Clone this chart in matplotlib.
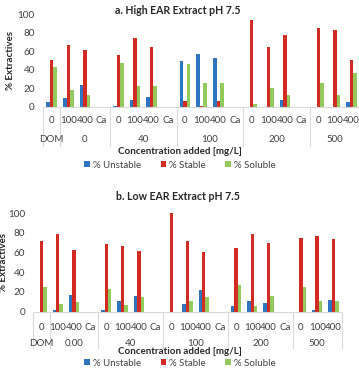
import matplotlib
matplotlib.use('Agg')
import matplotlib.pyplot as plt
from matplotlib.transforms import blended_transform_factory
import numpy as np

W, H = 359, 372

plt.rcParams['font.family'] = ['Lato', 'DejaVu Sans']

# categories: inner level (Ca addition) and outer level (DOM concentration)
inner_labels = ['0', '100', '400', 'Ca', '0', '100', '400', 'Ca', '0', '100', '400', 'Ca',
                '0', '100', '400', 'Ca', '0', '100', '400']
outer_labels_a = ['DOM', '0', '40', '100', '200', '500']
outer_labels_b = ['DOM', '0.00', '40', '100', '200', '500']
outer_first = [0, 1, 4, 8, 12, 16]
outer_last = [0, 3, 7, 11, 15, 18]

# a. High EAR extract
high_unstable = [5, 10, 24, 0, 1, 7, 11, 0, 50, 57, 53, 0, 0, 0, 7, 0, 0, 0, 5]
high_stable = [51, 67, 61, 0, 56, 74, 65, 0, 6, 1, 6, 0, 94, 64, 77, 0, 85, 83, 51]
high_soluble = [43, 18, 13, 0, 47, 23, 23, 0, 46, 26, 26, 0, 3, 20, 13, 0, 26, 13, 37]

# b. Low EAR extract
low_unstable = [0, 2, 17, 0, 2, 11, 16, 0, 0, 8, 22, 0, 6, 11, 9, 0, 0, 2, 12]
low_stable = [72, 79, 62, 0, 69, 67, 61, 0, 100, 72, 60, 0, 64, 79, 70, 0, 75, 77, 74]
low_soluble = [25, 8, 10, 0, 23, 7, 15, 0, 0, 11, 15, 0, 27, 6, 16, 0, 25, 11, 11]

colors = ['#2E74C0', '#D22B22', '#92CA5C']
series_names = ['% Unstable', '% Stable', '% Soluble']
grid_grey = '#D9D9D9'
text_grey = '#404040'


def fy(py):
    return 1 - py / H


def draw_panel(fig, box, title, values, outer_labels, ys):
    left, right, top, bottom = box
    ax = fig.add_axes([left / W, fy(bottom), (right - left) / W, (bottom - top) / H])
    x = np.arange(len(inner_labels))
    w = 0.21
    bars = []
    for i, (vals, c) in enumerate(zip(values, colors)):
        bars.append(ax.bar(x + (i - 1) * w, vals, width=w, color=c, label=series_names[i]))
    ax.set_xlim(-0.5, len(inner_labels) - 0.5)
    ax.set_ylim(0, 100)
    ax.set_yticks([0, 20, 40, 60, 80, 100])
    ax.tick_params(axis='y', length=0, pad=6, labelsize=7.2, labelcolor=text_grey)
    ax.set_xticks([])
    for s in ['top', 'right', 'left']:
        ax.spines[s].set_visible(False)
    ax.spines['bottom'].set_color(grid_grey)
    ax.spines['bottom'].set_linewidth(0.8)

    trans = blended_transform_factory(ax.transData, fig.transFigure)
    for xi, lab in zip(x, inner_labels):
        ax.text(xi, fy(ys['inner']), lab, transform=trans, ha='center', va='center',
                fontsize=7, color=text_grey)
    for lab, a, b in zip(outer_labels, outer_first, outer_last):
        ax.text((a + b) / 2, fy(ys['outer']), lab, transform=trans, ha='center', va='center',
                fontsize=7, color=text_grey)
    seps = [-0.5] + [b + 0.5 for b in outer_last]
    for s in seps:
        ax.plot([s, s], [fy(bottom), fy(ys['sep_end'])], transform=trans, color=grid_grey,
                lw=0.8, clip_on=False)

    fig.text(178 / W, fy(ys['title']), title, ha='center', va='center', fontsize=7.6,
             fontweight='bold', color='#262626')
    fig.text(180 / W, fy(ys['xlabel']), 'Concentration added [mg/L]', ha='center', va='center',
             fontsize=7, fontweight='bold', color='#262626')
    fig.text(ys['ylabel_x'] / W, fy((top + bottom) / 2), '% Extractives', ha='center', va='center',
             rotation=90, fontsize=7, fontweight='bold', color='#262626')
    fig.legend(handles=bars, loc='center', bbox_to_anchor=(180 / W, fy(ys['legend'])), ncol=3,
               frameon=False, fontsize=7, handlelength=0.6, handleheight=0.6,
               handletextpad=0.3, columnspacing=2.0, labelcolor=text_grey)
    return ax


fig = plt.figure(figsize=(W / 100, H / 100), dpi=100)

draw_panel(fig, (43.3, 360, 14, 107), 'a. High EAR Extract pH 7.5',
           [high_unstable, high_stable, high_soluble], outer_labels_a,
           {'inner': 121, 'outer': 139, 'sep_end': 146, 'title': 11, 'xlabel': 151,
            'legend': 165, 'ylabel_x': 11})

draw_panel(fig, (33.4, 341.5, 213, 311.5), 'b. Low EAR Extract pH 7.5',
           [low_unstable, low_stable, low_soluble], outer_labels_b,
           {'inner': 327, 'outer': 343, 'sep_end': 348, 'title': 197, 'xlabel': 352,
            'legend': 363, 'ylabel_x': 4})

fig.savefig('out.png', dpi=100)
